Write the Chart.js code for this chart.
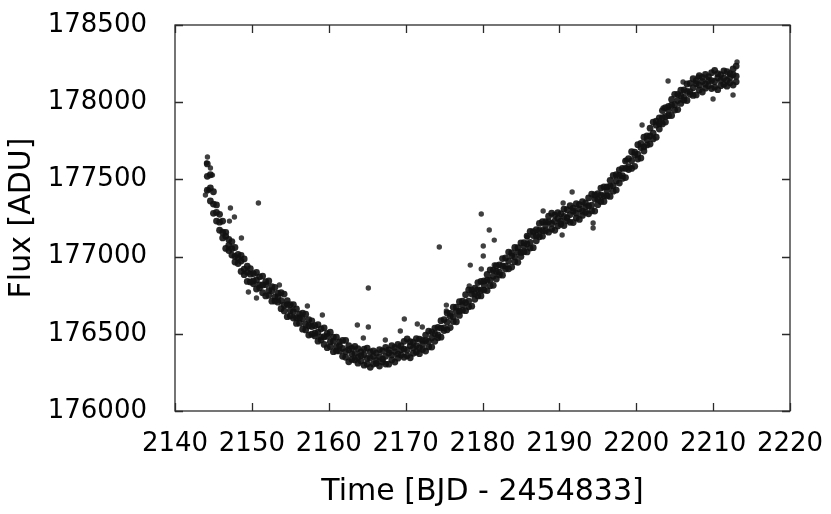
<!DOCTYPE html>
<html lang="en">
<head>
    <meta charset="UTF-8">
    <title>Flux vs Time</title>
    <script src="https://cdn.jsdelivr.net/npm/chart.js"></script>
    <style>
        body { margin: 0; background: white; }
        #wrap { width: 831px; height: 514px; }
    </style>
</head>
<body>
    <div id="wrap"><canvas id="lc" width="831" height="514"></canvas></div>

    <script>
        // time samples (BJD - 2454833)
        const times = [
            2144.2,2144.6,2145.0,2145.4,2145.8,2146.2,2146.6,2147.0,2147.4,2147.8,
            2148.2,2148.6,2149.0,2149.4,2149.8,2150.2,2150.6,2151.0,2151.4,2151.8,
            2152.2,2152.6,2153.0,2153.4,2153.8,2154.2,2154.6,2155.0,2155.4,2155.8,
            2156.2,2156.6,2157.0,2157.4,2157.8,2158.2,2158.6,2159.0,2159.4,2159.8,
            2160.2,2160.6,2161.0,2161.4,2161.8,2162.2,2162.6,2163.0,2163.4,2163.8,
            2164.2,2164.6,2165.0,2165.4,2165.8,2166.2,2166.6,2167.0,2167.4,2167.8,
            2168.2,2168.6,2169.0,2169.4,2169.8,2170.2,2170.6,2171.0,2171.4,2171.8,
            2172.2,2172.6,2173.0,2173.4,2173.8,2174.2,2174.6,2175.0,2175.4,2175.8,
            2176.2,2176.6,2177.0,2177.4,2177.8,2178.2,2178.6,2179.0,2179.4,2179.8,
            2180.2,2180.6,2181.0,2181.4,2181.8,2182.2,2182.6,2183.0,2183.4,2183.8,
            2184.2,2184.6,2185.0,2185.4,2185.8,2186.2,2186.6,2187.0,2187.4,2187.8,
            2188.2,2188.6,2189.0,2189.4,2189.8,2190.2,2190.6,2191.0,2191.4,2191.8,
            2192.2,2192.6,2193.0,2193.4,2193.8,2194.2,2194.6,2195.0,2195.4,2195.8,
            2196.2,2196.6,2197.0,2197.4,2197.8,2198.2,2198.6,2199.0,2199.4,2199.8,
            2200.2,2200.6,2201.0,2201.4,2201.8,2202.2,2202.6,2203.0,2203.4,2203.8,
            2204.2,2204.6,2205.0,2205.4,2205.8,2206.2,2206.6,2207.0,2207.4,2207.8,
            2208.2,2208.6,2209.0,2209.4,2209.8,2210.2,2210.6,2211.0,2211.4,2211.8,
            2212.2,2212.6,2213.0
        ];

        // upper edge of the scatter band
        const fluxHi = [
            177600,177530,177420,177335,177274,177230,177157,177111,177097,177059,
            177014,177008,176985,176938,176922,176890,176897,176869,176874,176837,
            176842,176806,176801,176764,176766,176757,176715,176688,176689,176661,
            176628,176634,176627,176591,176583,176552,176559,176532,176539,176502,
            176510,176479,176478,176448,176457,176457,176423,176406,176418,176404,
            176383,176401,176407,176382,176390,176375,176398,176389,176412,176395,
            176424,176412,176431,176421,176451,176467,176449,176446,176469,176465,
            176457,176492,176517,176513,176537,176541,176585,176592,176634,176632,
            176672,176673,176708,176711,176753,176784,176783,176795,176832,176839,
            176842,176884,176914,176913,176941,176947,176987,176991,177029,177024,
            177059,177058,177089,177091,177133,177164,177162,177174,177215,177226,
            177227,177262,177281,177269,177284,177277,177308,177304,177330,177313,
            177343,177336,177356,177346,177380,177405,177399,177408,177444,177451,
            177452,177494,177526,177530,177562,177572,177619,177635,177679,177677,
            177725,177733,177773,177782,177832,177871,177877,177898,177946,177965,
            177972,178018,178051,178051,178078,178079,178118,178122,178152,178139,
            178172,178161,178180,178165,178191,178206,178185,178179,178203,178198,
            178185,178215,178234
        ];

        // middle of the band
        const fluxMid = [
            177520,177445,177340,177286,177223,177158,177131,177074,177051,177002,
            176990,176971,176919,176898,176886,176842,176849,176816,176816,176818,
            176780,176779,176739,176740,176715,176685,176689,176651,176643,176604,
            176604,176597,176561,176551,176547,176504,176511,176479,176481,176483,
            176448,176452,176416,176424,176406,176385,176397,176369,176372,176347,
            176359,176364,176341,176342,176354,176327,176350,176336,176354,176376,
            176362,176385,176369,176397,176400,176395,176423,176409,176423,176408,
            176433,176455,176451,176473,176501,176493,176537,176539,176576,176613,
            176610,176646,176646,176687,176702,176712,176757,176758,176786,176782,
            176818,176847,176848,176873,176905,176899,176939,176938,176971,177005,
            176997,177031,177027,177067,177082,177092,177136,177137,177169,177169,
            177203,177225,177215,177229,177248,177229,177260,177251,177272,177294,
            177281,177309,177294,177322,177329,177333,177373,177371,177398,177394,
            177428,177457,177460,177490,177526,177524,177571,177582,177621,177658,
            177663,177706,177711,177758,177781,177799,177851,177861,177900,177908,
            177948,177981,177985,178011,178042,178031,178070,178069,178094,178120,
            178110,178134,178118,178141,178140,178134,178159,178142,178157,178141,
            178161,178178,178168
        ];

        // lower edge of the band
        const fluxLo = [
            177430,177360,177280,177230,177171,177121,177053,177039,177010,176965,
            176955,176904,176883,176839,176836,176824,176790,176798,176766,176745,
            176749,176711,176712,176705,176663,176648,176611,176616,176602,176567,
            176569,176530,176525,176492,176497,176486,176452,176461,176431,176410,
            176417,176384,176389,176389,176354,176348,176319,176334,176331,176310,
            176324,176297,176305,176283,176304,176309,176291,176318,176304,176303,
            176331,176317,176342,176362,176348,176358,176345,176374,176382,176371,
            176398,176388,176415,176414,176451,176475,176478,176521,176526,176540,
            176579,176578,176619,176652,176650,176675,176679,176723,176745,176745,
            176783,176780,176812,176814,176855,176881,176880,176920,176921,176932,
            176966,176963,177000,177032,177030,177055,177058,177102,177128,177132,
            177168,177158,177179,177170,177198,177211,177201,177233,177222,177221,
            177250,177241,177267,177287,177277,177296,177295,177336,177357,177357,
            177393,177390,177424,177431,177476,177506,177512,177564,177571,177585,
            177632,177638,177684,177723,177729,177762,177773,177826,177859,177871,
            177913,177914,177949,177952,177992,178013,178011,178051,178044,178047,
            178079,178066,178091,178106,178088,178097,178081,178107,178116,178104,
            178126,178111,178132
        ];

        // isolated points away from the band
        const outlierTime = [
            2144.1,2144.22,2143.96,2144.35,2144.61,2144.87,2147.21,2147.08,2147.73,2150.85,
            2148.64,2149.55,2150.6,2153.58,2157.22,2159.17,2163.72,2165.15,2165.15,2164.5,
            2167.36,2169.31,2169.83,2171.52,2172.17,2175.3,2175.3,2174.38,2178.41,2179.84,
            2180.88,2181.53,2180.1,2180.1,2179.84,2181.53,2178.28,2185.81,2187.89,2190.49,
            2191.66,2194.39,2194.39,2190.36,2204.14,2206.09,2200.76,2203.49,2208.04,2213.11,
            2209.99,2212.59,2198.68
        ];
        const outlierFlux = [
            177606,177645,177399,177431,177574,177528,177315,177230,177256,177347,
            177120,176771,176732,176816,176680,176622,176557,176797,176544,176473,
            176460,176518,176596,176563,176544,176686,176648,177062,176945,177276,
            177172,177107,177069,177004,176920,176946,176810,177127,177295,177347,
            177418,177218,177185,177140,178137,178131,177852,177962,178163,178260,
            178021,178047,177626
        ];

        const xTicks = [2140, 2220, 10];
        const yTicks = [176000, 178500, 500];

        function pts(tt, ff) {
            return tt.map((t, i) => ({ x: t, y: ff[i] }));
        }

        // box round the plot with inward ticks on all four sides
        const frame = {
            id: 'frame',
            beforeDatasetsDraw(chart) {
                const { ctx, chartArea: a, scales: { x, y } } = chart;
                ctx.save();
                ctx.strokeStyle = '#2b2b2b';
                ctx.lineWidth = 1.3;
                ctx.strokeRect(a.left, a.top, a.right - a.left, a.bottom - a.top);
                ctx.beginPath();
                x.ticks.forEach(t => {
                    const px = Math.round(x.getPixelForValue(t.value)) + 0.5;
                    ctx.moveTo(px, a.bottom); ctx.lineTo(px, a.bottom - 8);
                    ctx.moveTo(px, a.top); ctx.lineTo(px, a.top + 8);
                });
                y.ticks.forEach(t => {
                    const py = Math.round(y.getPixelForValue(t.value)) + 0.5;
                    ctx.moveTo(a.left, py); ctx.lineTo(a.left + 8, py);
                    ctx.moveTo(a.right, py); ctx.lineTo(a.right - 8, py);
                });
                ctx.stroke();
                ctx.restore();
            }
        };

        const band = {
            showLine: false,
            pointRadius: 3.4,
            pointBorderWidth: 0,
            pointBackgroundColor: 'rgba(18,18,18,0.9)',
            pointBorderColor: 'rgba(0,0,0,0)'
        };
        const single = { ...band, pointRadius: 2.7, pointBackgroundColor: 'rgba(30,30,30,0.85)' };

        const font = { family: 'DejaVu Sans', size: 26 };

        new Chart(document.getElementById('lc'), {
            type: 'scatter',
            data: {
                datasets: [
                    { ...band, data: pts(times, fluxHi) },
                    { ...band, data: pts(times, fluxMid) },
                    { ...band, data: pts(times, fluxLo) },
                    { ...single, data: pts(outlierTime, outlierFlux) }
                ]
            },
            options: {
                responsive: false,
                animation: false,
                events: [],
                layout: { padding: { left: 0, top: 25, right: 41, bottom: 0 } },
                plugins: { legend: { display: false }, tooltip: { enabled: false } },
                scales: {
                    x: {
                        type: 'linear',
                        min: xTicks[0], max: xTicks[1],
                        grid: { display: false },
                        border: { display: false },
                        ticks: {
                            stepSize: xTicks[2],
                            color: '#000',
                            font: font,
                            padding: 10,
                            maxRotation: 0,
                            callback: v => String(v)
                        },
                        title: {
                            display: true,
                            text: 'Time [BJD - 2454833]',
                            color: '#000',
                            font: { family: 'DejaVu Sans', size: 30 },
                            padding: { top: 8 }
                        },
                        afterFit: s => { s.height = 103; s.paddingLeft = 0; s.paddingRight = 0; }
                    },
                    y: {
                        type: 'linear',
                        min: yTicks[0], max: yTicks[1],
                        grid: { display: false },
                        border: { display: false },
                        ticks: {
                            stepSize: yTicks[2],
                            color: '#000',
                            font: font,
                            padding: 20,
                            callback: v => String(v)
                        },
                        title: {
                            display: true,
                            text: 'Flux [ADU]',
                            color: '#000',
                            font: { family: 'DejaVu Sans', size: 30 },
                            padding: { bottom: 0 }
                        },
                        afterFit: s => { s.width = 175; s.paddingTop = 0; s.paddingBottom = 0; }
                    }
                }
            },
            plugins: [frame]
        });
    </script>
</body>
</html>
